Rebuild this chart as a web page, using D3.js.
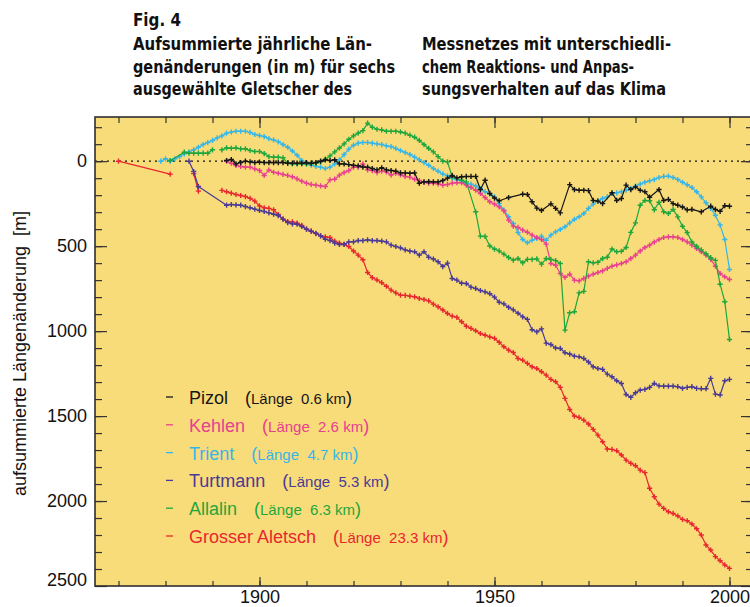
<!DOCTYPE html>
<html>
<head>
<meta charset="utf-8">
<script src="https://cdn.jsdelivr.net/npm/d3@7"></script>
<style>
  body { margin: 0; background: #fff; }
  svg { display: block; }
  .tick text { font-family: "Liberation Sans", Arial, sans-serif; }
</style>
</head>
<body>
<svg id="chart" width="750" height="607"></svg>
<script>
// Glaciers of the monitoring network, in legend order
const glaciers = ["Pizol", "Kehlen", "Trient", "Turtmann", "Allalin", "Grosser Aletsch"];
const lengthsKm = ["0.6", "2.6", "4.7", "5.3", "6.3", "23.3"];
const colors = ["#161616", "#e8408f", "#36b6e8", "#4a3a96", "#1ea63c", "#e8262e"];

// Cumulative length change [m] per year (positive = retreat); null marks a gap
const pizol = [
  [1893,-4],[1894,-10],[1895,16],[1896,8],[1897,0],[1898,4],[1899,8],[1900,6],[1901,8],[1902,8],
  [1903,8],[1904,8],[1905,8],[1906,12],[1907,12],[1908,12],[1909,12],[1910,8],[1911,12],[1912,8],
  [1913,0],[1914,-8],[1915,-4],[1916,-8],[1917,16],[1918,16],[1919,20],[1920,24],[1921,27],[1922,35],
  [1923,35],[1924,43],[1925,51],[1926,39],[1927,51],[1928,55],[1929,59],[1930,69],[1931,69],[1932,71],
  [1933,69],[1934,130],[1935,122],[1936,120],[1937,122],[1938,122],[1939,114],[1940,100],[1941,84],[1942,98],
  [1943,92],[1944,90],[1945,90],[1946,90],[1947,167],[1948,112],[1949,190],[1950,217],[1951,233],[1953,214],
  [1956,194],[1957,196],[1958,239],[1959,276],[1960,290],[1962,251],[1963,278],[1964,304],[1966,138],[1967,167],
  [1968,171],[1969,171],[1970,173],[1971,231],[1972,235],[1973,250],[1975,186],[1976,231],[1977,220],[1978,141],
  [1979,167],[1980,151],[1981,171],[1982,180],[1983,212],[1985,167],[1986,231],[1987,225],[1988,250],[1989,259],
  [1990,270],[1991,286],[1992,284],[1994,298],[1996,265],[1997,284],[1998,295],[1999,262],[2000,265]
];
const kehlen = [
  [1893,0],[1894,12],[1895,25],[1896,31],[1897,35],[1898,35],[1899,45],[1900,55],[1901,84],[1902,51],
  [1903,65],[1904,71],[1905,78],[1906,84],[1907,92],[1908,104],[1909,118],[1910,129],[1911,137],[1912,141],
  [1913,145],[1914,149],[1915,110],[1916,106],[1917,82],[1918,67],[1919,55],[1920,35],[1921,35],[1922,16],
  [1923,51],[1924,55],[1925,67],[1926,59],[1927,63],[1928,82],[1929,71],[1930,80],[1931,90],[1932,94],
  [1933,106],[1934,114],[1935,125],[1936,129],[1937,129],[1938,133],[1939,141],[1940,137],[1941,129],[1942,127],
  [1943,127],[1944,141],[1945,155],[1946,171],[1947,190],[1948,214],[1949,239],[1950,253],[1951,269],[1952,292],
  [1953,347],[1954,382],[1955,390],[1956,406],[1957,418],[1958,435],[1959,449],[1960,461],[1961,488],[1962,602],
  [1963,612],[1964,661],[1965,684],[1966,665],[1967,700],[1968,704],[1969,690],[1970,676],[1971,665],[1972,655],
  [1973,645],[1974,631],[1975,618],[1976,610],[1977,602],[1978,592],[1979,573],[1980,553],[1981,529],[1982,508],
  [1983,494],[1984,476],[1985,461],[1986,449],[1987,445],[1988,445],[1989,449],[1990,461],[1991,475],[1992,494],
  [1993,514],[1994,533],[1995,553],[1996,578],[1997,618],[1998,661],[1999,680],[2000,696]
];
const trient = [
  [1879,0],[1880,-14],[1881,0],[1882,-14],[1883,-27],[1884,-43],[1885,-55],[1886,-67],[1887,-82],[1888,-98],
  [1889,-110],[1890,-122],[1891,-137],[1892,-149],[1893,-165],[1894,-171],[1895,-176],[1896,-176],[1897,-176],[1898,-169],
  [1899,-157],[1900,-151],[1901,-145],[1902,-133],[1903,-125],[1904,-114],[1905,-98],[1906,-82],[1907,-60],[1908,-35],
  [1909,-4],[1910,16],[1911,24],[1912,31],[1913,35],[1914,43],[1915,35],[1916,16],[1917,-8],[1918,-39],
  [1919,-71],[1920,-94],[1921,-106],[1922,-110],[1923,-110],[1924,-106],[1925,-102],[1926,-98],[1927,-90],[1928,-86],
  [1929,-75],[1930,-63],[1931,-51],[1932,-39],[1933,-24],[1934,-8],[1935,8],[1936,24],[1937,43],[1938,59],
  [1939,75],[1940,86],[1941,100],[1942,110],[1943,116],[1944,131],[1945,135],[1946,147],[1947,161],[1948,180],
  [1949,194],[1950,210],[1951,249],[1952,288],[1953,327],[1954,367],[1955,420],[1956,461],[1957,480],[1958,465],
  [1959,455],[1960,441],[1961,465],[1962,435],[1963,416],[1964,402],[1965,386],[1966,363],[1967,343],[1968,327],
  [1969,308],[1970,278],[1971,253],[1972,233],[1973,220],[1974,210],[1975,190],[1976,186],[1977,180],[1978,171],
  [1979,161],[1980,147],[1981,135],[1982,124],[1983,116],[1984,108],[1985,96],[1986,90],[1987,88],[1988,96],
  [1989,108],[1990,124],[1991,139],[1992,155],[1993,180],[1994,210],[1995,245],[1996,278],[1997,318],[1998,376],
  [1999,461],[2000,637]
];
const turtmann = [
  [1885,0],[1886,61],[1887,149],[1893,259],[1894,255],[1895,257],[1896,259],[1897,267],[1898,274],[1899,282],
  [1900,290],[1901,296],[1902,304],[1903,312],[1904,320],[1905,341],[1906,361],[1907,369],[1908,371],[1909,384],
  [1910,400],[1911,412],[1912,424],[1913,439],[1914,459],[1915,467],[1916,482],[1917,490],[1918,490],[1919,475],
  [1920,475],[1921,467],[1922,467],[1923,463],[1924,467],[1925,467],[1926,471],[1927,475],[1928,494],[1929,502],
  [1930,510],[1931,522],[1932,529],[1933,533],[1934,553],[1935,533],[1936,565],[1937,576],[1938,592],[1939,620],
  [1940,600],[1941,690],[1942,700],[1943,718],[1944,720],[1945,741],[1946,749],[1947,761],[1948,769],[1949,780],
  [1950,800],[1951,830],[1952,840],[1953,860],[1954,875],[1955,895],[1956,916],[1957,931],[1958,992],[1959,1004],
  [1960,987],[1961,1071],[1962,1079],[1963,1099],[1964,1102],[1965,1127],[1966,1135],[1967,1147],[1968,1151],[1969,1161],
  [1970,1182],[1971,1210],[1972,1220],[1973,1225],[1974,1253],[1975,1269],[1976,1292],[1977,1308],[1978,1373],[1979,1390],
  [1980,1363],[1981,1347],[1982,1343],[1983,1331],[1984,1308],[1985,1322],[1986,1324],[1987,1324],[1988,1324],[1989,1327],
  [1990,1337],[1991,1331],[1992,1327],[1993,1337],[1994,1339],[1995,1339],[1996,1278],[1997,1371],[1998,1376],[1999,1292],
  [2000,1284]
];
const allalin = [
  [1881,-4],[1884,-53],[1885,-47],[1886,-47],[1887,-47],[1888,-47],[1889,-47],[1890,-67],[1891,null],[1892,-67],
  [1893,-78],[1894,-76],[1895,-78],[1896,-73],[1897,-73],[1898,-63],[1899,-57],[1900,-57],[1901,-45],[1902,-27],
  [1903,-24],[1904,-24],[1905,-20],[1906,12],[1907,16],[1908,16],[1909,16],[1910,16],[1911,16],[1912,12],
  [1913,4],[1914,-12],[1915,-31],[1916,-55],[1917,-78],[1918,-102],[1919,-129],[1920,-149],[1921,-165],[1922,-180],
  [1923,-224],[1924,-200],[1925,-188],[1926,-184],[1927,-176],[1928,-176],[1929,-176],[1930,-172],[1931,-165],[1932,-153],
  [1933,-141],[1934,-122],[1935,-98],[1936,-75],[1937,-55],[1938,-27],[1939,0],[1940,4],[1941,92],[1943,112],
  [1944,122],[1946,298],[1947,441],[1948,443],[1949,499],[1950,517],[1951,528],[1952,547],[1953,567],[1954,582],
  [1955,573],[1956,598],[1957,578],[1958,578],[1959,575],[1960,606],[1961,573],[1962,578],[1963,585],[1964,602],
  [1965,994],[1966,892],[1967,886],[1968,775],[1969,766],[1970,592],[1971,598],[1972,595],[1973,573],[1974,565],
  [1975,517],[1976,533],[1977,530],[1978,508],[1979,419],[1980,363],[1981,259],[1982,231],[1983,233],[1984,286],
  [1985,242],[1986,298],[1987,308],[1988,284],[1989,328],[1990,383],[1991,420],[1992,476],[1993,501],[1994,522],
  [1995,545],[1996,568],[1997,584],[1998,724],[1999,827],[2000,1049]
];
const aletsch = [
  [1870,0],[1881,76],[1883,null],[1886,73],[1887,176],[1889,null],[1892,172],[1893,180],[1894,188],[1895,196],
  [1896,202],[1897,208],[1898,219],[1899,235],[1900,263],[1901,275],[1902,278],[1903,286],[1904,314],[1905,341],
  [1906,355],[1907,357],[1908,365],[1909,378],[1910,400],[1911,412],[1912,426],[1913,439],[1914,445],[1915,449],
  [1916,471],[1917,482],[1918,490],[1919,502],[1920,529],[1921,553],[1922,580],[1923,655],[1924,685],[1925,699],
  [1926,715],[1927,736],[1928,759],[1929,775],[1930,788],[1931,790],[1932,794],[1933,798],[1934,808],[1935,814],
  [1936,822],[1937,841],[1938,857],[1939,876],[1940,896],[1941,912],[1942,919],[1943,945],[1944,971],[1945,984],
  [1946,998],[1947,1014],[1948,1024],[1949,1034],[1950,1043],[1951,1066],[1952,1092],[1953,1112],[1954,1126],[1955,1161],
  [1956,1171],[1957,1190],[1958,1210],[1959,1220],[1960,1239],[1961,1259],[1962,1284],[1963,1298],[1964,1331],[1965,1396],
  [1966,1461],[1967,1500],[1968,1508],[1969,1524],[1970,1547],[1971,1578],[1972,1612],[1973,1651],[1974,1694],[1975,1696],
  [1976,1704],[1977,1729],[1978,1759],[1979,1778],[1980,1792],[1981,1818],[1982,1833],[1983,1925],[1984,1975],[1985,2018],
  [1986,2043],[1987,2063],[1988,2073],[1989,2088],[1990,2108],[1991,2116],[1992,2135],[1993,2163],[1994,2200],[1995,2259],
  [1996,2288],[1997,2327],[1998,2351],[1999,2376],[2000,2396]
];
const seriesData = [pizol, kehlen, trient, turtmann, allalin, aletsch];

// Axis ticks
const xMajorTicks = [1900, 1950, 2000];
const xMinorTicks = d3.range(1870, 2001, 10);
const yMajorTicks = [0, 500, 1000, 1500, 2000, 2500];
const yMinorTicks = d3.range(-200, 2500, 100);

// Caption text (two columns)
const captionHead = "Fig. 4";
const captionLeft = ["Aufsummierte jährliche Län-", "genänderungen (in m) für sechs", "ausgewählte Gletscher des"];
const captionRight = ["Messnetzes mit unterschiedli-", "chem Reaktions- und Anpas-", "sungsverhalten auf das Klima"];
const yTitle = "aufsummierte Längenänderung  [m]";

const svg = d3.select("#chart");
const plot = { left: 95, top: 117, right: 753, bottom: 586 };

const x = d3.scaleLinear().domain([1865, 2005]).range([plot.left, plot.right]);
const y = d3.scaleLinear().domain([-260, 2500]).range([plot.top, plot.bottom]);

// Caption
const capFont = '"Liberation Sans Narrow", "DejaVu Sans Condensed", "Arial Narrow", sans-serif';
const cap = svg.append("g").attr("font-family", capFont).attr("font-weight", "bold")
  .attr("font-size", 17).attr("fill", "#111");
cap.append("text").attr("x", 133).attr("y", 26).attr("textLength", 48)
  .attr("lengthAdjust", "spacingAndGlyphs").text(captionHead);
const leftWidths = [239, 262, 219];
const rightWidths = [249, 212, 244];
captionLeft.forEach((t, i) => cap.append("text").attr("x", 133).attr("y", 50 + i * 22.5)
  .attr("textLength", leftWidths[i]).attr("lengthAdjust", "spacingAndGlyphs").text(t));
captionRight.forEach((t, i) => cap.append("text").attr("x", 422).attr("y", 50 + i * 22.5)
  .attr("textLength", rightWidths[i]).attr("lengthAdjust", "spacingAndGlyphs").text(t));

// Plot background
svg.append("rect").attr("x", plot.left).attr("y", plot.top)
  .attr("width", plot.right - plot.left).attr("height", plot.bottom - plot.top)
  .attr("fill", "#f9dc7a");

svg.append("defs").append("clipPath").attr("id", "plotClip").append("rect")
  .attr("x", plot.left).attr("y", plot.top)
  .attr("width", plot.right - plot.left).attr("height", plot.bottom - plot.top);

// Zero reference line
svg.append("line").attr("x1", plot.left).attr("x2", plot.right)
  .attr("y1", y(0)).attr("y2", y(0))
  .attr("stroke", "#111").attr("stroke-width", 1.2).attr("stroke-dasharray", "2,4");

// Axes: ticks point inward on all four sides
function styleAxis(g) {
  g.select(".domain").remove();
  g.selectAll(".tick line").attr("stroke", "#333").attr("stroke-width", 1.2);
  g.selectAll(".tick text").attr("font-size", 18).attr("fill", "#111");
}
const fmt = d3.format("d");
svg.append("g").attr("transform", `translate(${plot.left},0)`)
  .call(d3.axisLeft(y).tickValues(yMinorTicks).tickSize(-7).tickFormat("")).call(styleAxis);
svg.append("g").attr("transform", `translate(${plot.left},0)`)
  .call(d3.axisLeft(y).tickValues(yMajorTicks).tickSize(-12).tickPadding(8).tickFormat(fmt))
  .call(styleAxis)
  .call(g => g.selectAll(".tick text").filter(d => d === 2500).attr("dy", "-0.05em"));
svg.append("g").attr("transform", `translate(${plot.right},0)`)
  .call(d3.axisRight(y).tickValues(yMinorTicks).tickSize(-7).tickFormat("")).call(styleAxis);
svg.append("g").attr("transform", `translate(${plot.right},0)`)
  .call(d3.axisRight(y).tickValues(yMajorTicks).tickSize(-12).tickFormat("")).call(styleAxis);
svg.append("g").attr("transform", `translate(0,${plot.top})`)
  .call(d3.axisTop(x).tickValues(xMinorTicks).tickSize(-6).tickFormat("")).call(styleAxis);
svg.append("g").attr("transform", `translate(0,${plot.top})`)
  .call(d3.axisTop(x).tickValues(xMajorTicks).tickSize(-11).tickFormat("")).call(styleAxis);
svg.append("g").attr("transform", `translate(0,${plot.bottom})`)
  .call(d3.axisBottom(x).tickValues(xMinorTicks).tickSize(-5).tickFormat("")).call(styleAxis);
svg.append("g").attr("transform", `translate(0,${plot.bottom})`)
  .call(d3.axisBottom(x).tickValues(xMajorTicks).tickSize(-9).tickPadding(4).tickFormat(fmt))
  .call(styleAxis);

// Frame
svg.append("rect").attr("x", plot.left).attr("y", plot.top)
  .attr("width", plot.right - plot.left).attr("height", plot.bottom - plot.top)
  .attr("fill", "none").attr("stroke", "#2e2e2e").attr("stroke-width", 1.6);

// Y axis title
svg.append("text")
  .attr("transform", `translate(26,${(plot.top + plot.bottom) / 2 + 2}) rotate(-90)`)
  .attr("text-anchor", "middle")
  .attr("font-family", '"Liberation Sans", Arial, sans-serif')
  .attr("font-size", 18).attr("fill", "#111")
  .style("white-space", "pre")
  .text(yTitle);

// Series lines with "+" markers
const line = d3.line().defined(d => d[1] != null).x(d => x(d[0])).y(d => y(d[1]));
const series = svg.append("g").attr("clip-path", "url(#plotClip)");
const drawOrder = [5, 3, 2, 1, 4, 0];
drawOrder.forEach(i => {
  const g = series.append("g");
  g.append("path").datum(seriesData[i]).attr("d", line)
    .attr("fill", "none").attr("stroke", colors[i]).attr("stroke-width", 1.2)
    .attr("stroke-linejoin", "round");
  g.selectAll("path.mark").data(seriesData[i].filter(d => d[1] != null)).join("path")
    .attr("class", "mark")
    .attr("d", d => `M${x(d[0]) - 2.6},${y(d[1])}h5.2M${x(d[0])},${y(d[1]) - 2.6}v5.2`)
    .attr("stroke", colors[i]).attr("stroke-width", 1.4);
});

// Legend
const legend = svg.append("g").attr("font-family", '"Liberation Sans", Arial, sans-serif');
glaciers.forEach((name, i) => {
  const by = 404 + i * 27.8;
  legend.append("line").attr("x1", 166).attr("x2", 173).attr("y1", by - 7).attr("y2", by - 7)
    .attr("stroke", colors[i]).attr("stroke-width", 1.3);
  const t = legend.append("text").attr("x", 189).attr("y", by).attr("fill", colors[i])
    .style("white-space", "pre");
  t.append("tspan").attr("font-size", 18).text(name);
  t.append("tspan").attr("font-size", 18).attr("dx", 17).text("(");
  t.append("tspan").attr("font-size", 15).text(`Länge  ${lengthsKm[i]} km`);
  t.append("tspan").attr("font-size", 18).text(")");
});
</script>
</body>
</html>
